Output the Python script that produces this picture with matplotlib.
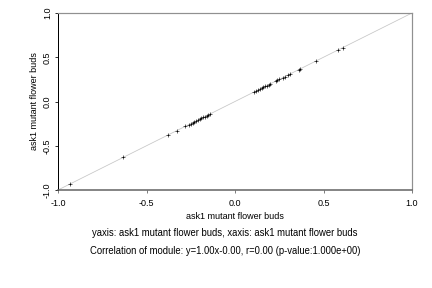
import matplotlib
matplotlib.use("Agg")
import matplotlib.pyplot as plt

plt.rcParams['font.family'] = ['Liberation Sans', 'DejaVu Sans']

x_vals = [-0.93, -0.63, -0.38, -0.33, -0.28, -0.26, -0.25, -0.24, -0.23, -0.22,
          -0.21, -0.20, -0.19, -0.18, -0.17, -0.16, -0.15, -0.14,
          0.11, 0.12, 0.13, 0.14, 0.15, 0.16, 0.17, 0.18, 0.19, 0.20,
          0.23, 0.24, 0.25, 0.27, 0.28, 0.30, 0.31, 0.36, 0.37, 0.46, 0.58, 0.61]
y_vals = list(x_vals)
ticks = [-1.0, -0.5, 0.0, 0.5, 1.0]
tick_labels = ["-1.0", "-0.5", "0.0", "0.5", "1.0"]
xlabel = "ask1 mutant flower buds"
ylabel = "ask1 mutant flower buds"
caption1 = "yaxis: ask1 mutant flower buds, xaxis: ask1 mutant flower buds"
caption2 = "Correlation of module: y=1.00x-0.00, r=0.00 (p-value:1.000e+00)"

fs = 9.0
fig = plt.figure(figsize=(6, 4), dpi=72)
ax = fig.add_axes([58/432, 1 - 190/288, 354/432, 177/288])
ax.plot([-1, 1], [-1, 1], color='#c8c8c8', lw=0.8, zorder=1)
ax.scatter(x_vals, y_vals, marker='+', s=14, c='black', linewidths=0.6, zorder=2)
ax.set_xlim(-1, 1)
ax.set_ylim(-1, 1)
ax.set_xticks(ticks)
ax.set_xticklabels(tick_labels, fontsize=fs)
ax.set_yticks(ticks)
ax.set_yticklabels(tick_labels, fontsize=fs, rotation=90, va='center')
ax.tick_params(axis='x', length=3, width=0.8, color='#606060', pad=6)
ax.tick_params(axis='y', length=3, width=0.8, color='black', pad=3)
ax.spines['left'].set_color('black')
ax.spines['left'].set_linewidth(1.0)
ax.spines['bottom'].set_color('#606060')
ax.spines['bottom'].set_linewidth(1.5)
ax.spines['top'].set_color('#909090')
ax.spines['top'].set_linewidth(1.2)
ax.spines['right'].set_color('#909090')
ax.spines['right'].set_linewidth(1.2)
ax.set_xlabel(xlabel, fontsize=fs, labelpad=4)
ax.set_ylabel(ylabel, fontsize=fs, labelpad=4)
cx = 225 / 432
fig.text(cx, 1 - 232.5/288, caption1, fontsize=9.5, ha='center', va='center')
fig.text(cx, 1 - 250.5/288, caption2, fontsize=9.5, ha='center', va='center')
fig.savefig("out.png", dpi=72)
